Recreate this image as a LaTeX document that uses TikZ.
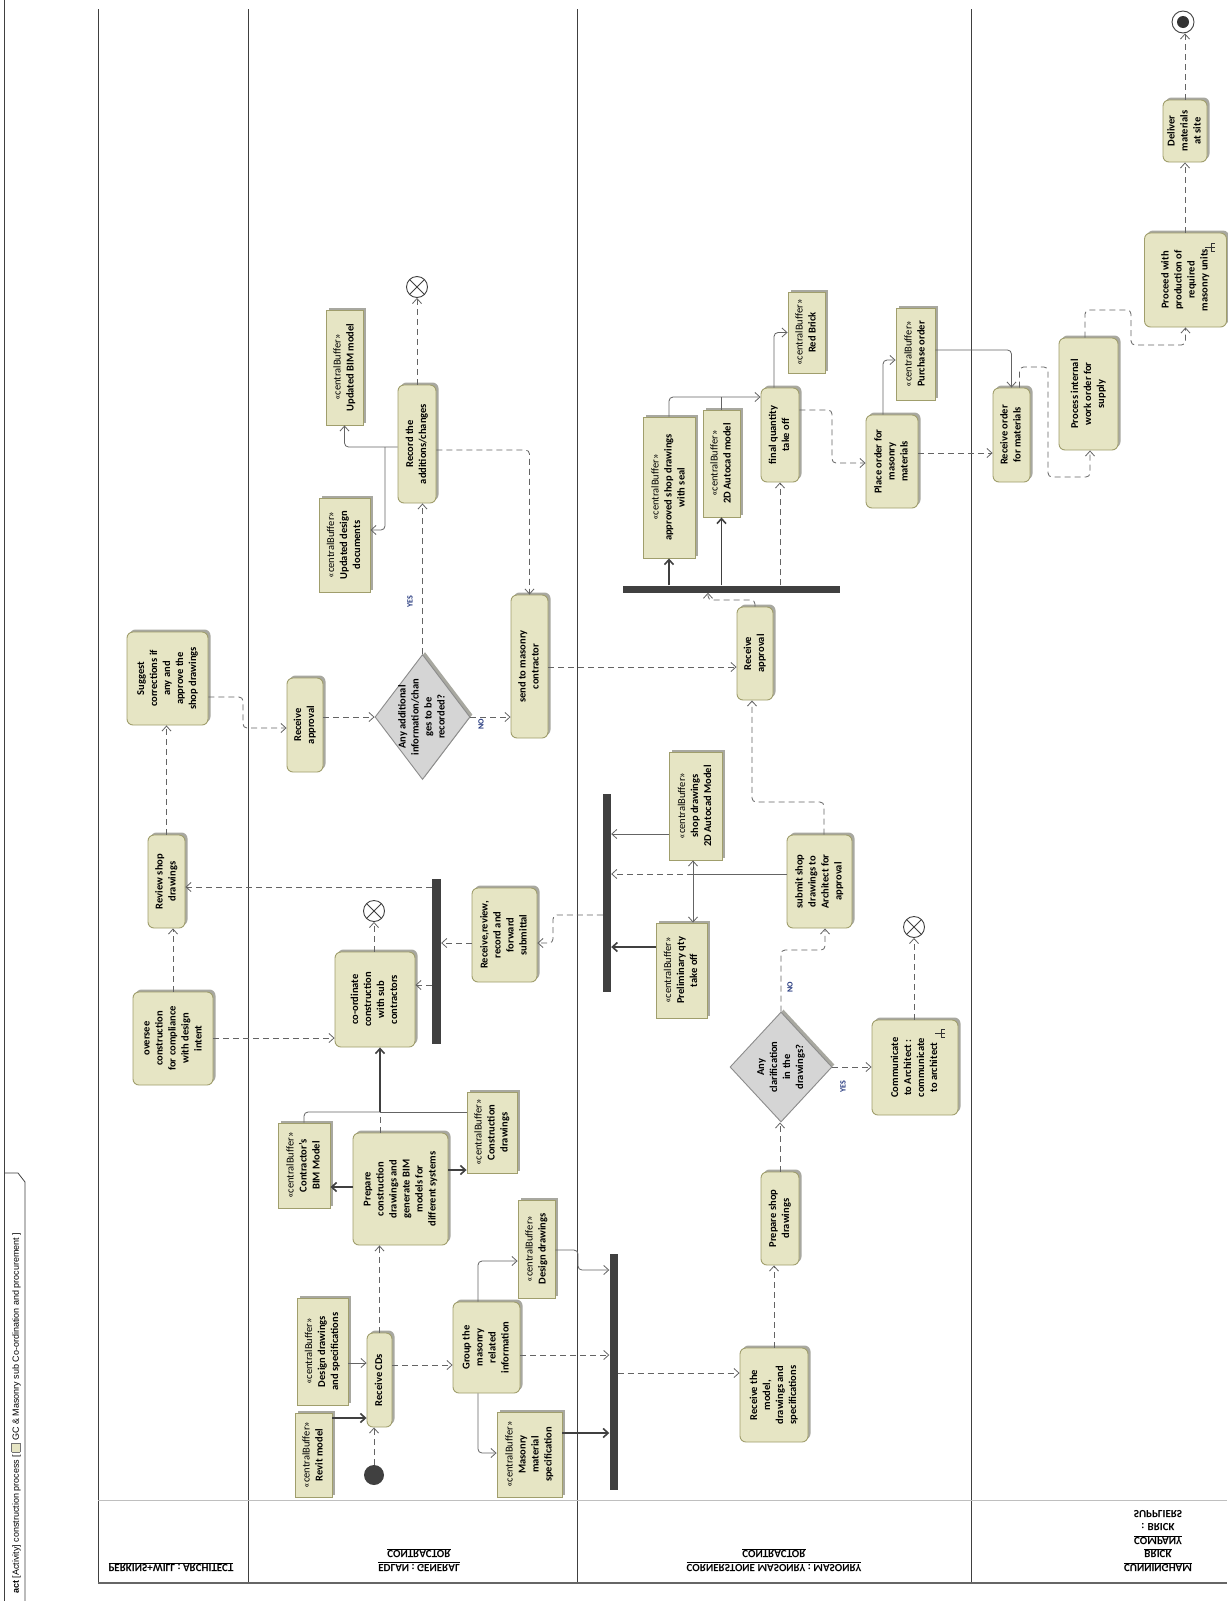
\documentclass[tikz,border=0pt]{standalone}
\usepackage{fontspec}
\setmainfont{Carlito}
\newfontfamily\tabfont{Liberation Sans}
\usetikzlibrary{arrows.meta, shapes.geometric, shadows}

\definecolor{actfill}{RGB}{230,229,196}
\definecolor{actline}{RGB}{160,158,108}
\definecolor{decfill}{RGB}{213,213,213}
\definecolor{decline}{RGB}{140,140,140}
\definecolor{flowgray}{RGB}{100,100,100}
\definecolor{bardark}{RGB}{64,64,64}
\definecolor{lblblue}{RGB}{35,55,125}
\definecolor{shade}{RGB}{168,168,160}

\newcommand{\vtext}[1]{\rotatebox{90}{\begin{tabular}{@{}c@{}}#1\end{tabular}}}
\newcommand{\cbuf}[1]{\vtext{\mdseries «centralBuffer»\\#1}}
\newcommand{\flipped}[1]{\scalebox{1}[-1]{\begin{tabular}{@{}c@{}}#1\end{tabular}}}

\tikzset{
  rakeicon/.pic={
    \draw[line width=0.7pt, black!80] (-5,0) -- (5,0) (1,-4) -- (1,4) (1,-4) -- (5,-4) (1,4) -- (5,4);
  }
}

\begin{document}
\begin{tikzpicture}[x=1pt, y=-1pt,
  act/.style 2 args={draw=actline, fill=actfill, line width=0.9pt, rounded corners=6pt,
    minimum width=#1pt, minimum height=#2pt, inner sep=0pt,
    font=\fontsize{10.5}{13}\selectfont\bfseries,
    drop shadow={shadow xshift=2.5pt, shadow yshift=2.5pt, fill=shade, opacity=1}},
  obj/.style 2 args={draw=actline, fill=actfill, line width=0.9pt,
    minimum width=#1pt, minimum height=#2pt, inner sep=0pt,
    font=\fontsize{10.5}{13}\selectfont\bfseries,
    drop shadow={shadow xshift=2.5pt, shadow yshift=2.5pt, fill=shade, opacity=1}},
  dec/.style 2 args={diamond, draw=decline, fill=decfill, line width=0.9pt,
    minimum width=#1pt, minimum height=#2pt, inner sep=-10pt,
    font=\fontsize{10.5}{13}\selectfont\bfseries,
    drop shadow={shadow xshift=2.5pt, shadow yshift=2.5pt, fill=shade, opacity=1}},
  bar/.style 2 args={fill=bardark, minimum width=#1pt, minimum height=#2pt, inner sep=0pt},
  ini/.style={circle, fill=bardark, minimum size=20pt, inner sep=0pt},
  flowfin/.style={circle, draw=black!75, fill=white, line width=0.9pt, minimum size=21pt, inner sep=0pt,
    path picture={\draw[line width=0.9pt, black!75]
      (path picture bounding box.north west) -- (path picture bounding box.south east)
      (path picture bounding box.north east) -- (path picture bounding box.south west);}},
  actfin/.style={circle, draw=black!75, fill=white, line width=0.9pt, minimum size=22pt, inner sep=0pt,
    path picture={\fill[black!80] (path picture bounding box.center) circle (6pt);}},
  ctrl/.style={draw=flowgray, line width=0.8pt, dash pattern=on 6pt off 4pt, rounded corners=4pt,
    -{Straight Barb[length=5pt, width=9pt]}},
  ctrlnt/.style={draw=flowgray, line width=0.8pt, dash pattern=on 6pt off 4pt, rounded corners=4pt},
  objf/.style={draw=flowgray, line width=0.8pt, rounded corners=4pt,
    -{Straight Barb[length=5pt, width=9pt]}},
  objnt/.style={draw=flowgray, line width=0.8pt, rounded corners=4pt},
  objk/.style={draw=black!75, line width=1.6pt, -{Straight Barb[length=5pt, width=9pt]}},
  lane/.style={draw=black!75, line width=0.8pt},
  guard/.style={font=\fontsize{8}{9}\selectfont\bfseries, text=lblblue, inner sep=0pt},
  lanehead/.style={font=\fontsize{11}{13.5}\selectfont\bfseries, inner sep=0pt},
]
\useasboundingbox (0,0) rectangle (1227,1601);
\fill[white] (0,0) rectangle (1227,1601);

% Frame and title tab
\draw[lane] (4,0) -- (4,1601);
\draw[lane] (4,1173) -- (18,1173) -- (25,1182) -- (25,1601);
\node[rotate=90, anchor=west, inner sep=0pt, font=\tabfont\fontsize{9}{10}\selectfont] (title) at (16,1594)
  {\textbf{act} [Activity] construction process [ \setlength{\fboxsep}{1pt}\fcolorbox{black!55}{actfill}{\rule{0pt}{6pt}\hspace{6pt}} GC \& Masonry sub Co-ordination and procurement ]};

% Swimlanes
\foreach \lx in {98,248,577,971}
  \draw[lane] (\lx,9) -- (\lx,1583);
\draw[draw=black!25, line width=0.8pt] (98,1500) -- (1227,1500);
\draw[draw=black!60, line width=1.4pt] (98,1583) -- (1227,1583);

\node[lanehead] (hArch) at (171,1567) {\flipped{\underline{PERKINS+WILL : ARCHITECT}}};
\node[lanehead] (hGC) at (419,1560) {\flipped{\underline{EDLAN : GENERAL}\\\underline{CONTRACTOR}}};
\node[lanehead] (hMas) at (774,1560) {\flipped{\underline{CORNERSTONE MASONRY : MASONRY}\\\underline{CONTRACTOR}}};
\node[lanehead] (hSup) at (1158,1540) {\flipped{\underline{CUNNINGHAM}\\\underline{BRICK}\\\underline{COMPANY}\\: BRICK\\SUPPLIERS}};

% Architect lane
\node[act={81}{93}] (suggest) at (167.5,678.5) {\vtext{Suggest\\corrections if\\any and\\approve the\\shop drawings}};
\node[act={37}{93}] (review) at (166.5,881.5) {\vtext{Review shop\\drawings}};
\node[act={80}{93}] (oversee) at (173,1038.5) {\vtext{oversee\\construction\\for compliance\\with design\\intent}};

% General contractor lane
\node[ini] (start) at (374,1475) {};
\node[obj={37}{84}] (revit) at (313.5,1455) {\cbuf{Revit model}};
\node[obj={51}{107}] (dspec) at (322.5,1351.5) {\cbuf{Design drawings\\and specifications}};
\node[act={25}{94}] (cds) at (379.5,1380) {\vtext{Receive CDs}};
\node[act={95}{112}] (prep) at (400.5,1189) {\vtext{Prepare\\construction\\drawings and\\generate BIM\\models for\\different systems}};
\node[obj={52}{85}] (bim) at (304,1165.5) {\cbuf{Contractor's\\BIM Model}};
\node[obj={50}{81}] (cdraw) at (492,1132.5) {\cbuf{Construction\\drawings}};
\node[act={67}{91}] (group) at (486.5,1347.5) {\vtext{Group the\\masonry\\related\\information}};
\node[obj={37}{98}] (ddraw) at (536.5,1249) {\cbuf{Design drawings}};
\node[obj={65}{85}] (mspec) at (529.5,1454.5) {\cbuf{Masonry\\material\\specification}};
\node[act={80}{95}] (coord) at (375,999.5) {\vtext{co-ordinate\\construction\\with sub\\contractors}};
\node[flowfin] (endA) at (374,911) {};
\node[bar={9}{165}] (forkA) at (436.5,961.5) {};
\node[act={65}{94}] (rrr) at (504.5,935) {\vtext{Receive,review,\\record and\\forward\\submittal}};
\node[act={36}{94}] (apprA) at (305,725) {\vtext{Receive\\approval}};
\node[dec={95}{125}] (addinfo) at (422.5,717) {\vtext{Any additional\\information/chan\\ges to be\\recorded?}};
\node[act={37}{143}] (send) at (529.5,666.5) {\vtext{send to masonry\\contractor}};
\node[act={38}{118}] (record) at (417,444) {\vtext{Record the\\additions/changes}};
\node[obj={37}{115}] (ubim) at (344.5,367.5) {\cbuf{Updated BIM model}};
\node[obj={51}{94}] (udoc) at (344.5,545) {\cbuf{Updated design\\documents}};
\node[flowfin] (endB) at (417,287) {};

% Masonry contractor lane
\node[bar={8}{236}] (joinB) at (613.5,1372) {};
\node[act={68}{94}] (rmodel) at (774,1395) {\vtext{Receive the\\model,\\drawings and\\specifications}};
\node[act={38}{93}] (pshop) at (780,1218.5) {\vtext{Prepare shop\\drawings}};
\node[dec={102}{110}] (clarif) at (781,1067) {\vtext{Any\\clarification\\in the\\drawings?}};
\node[act={86}{95}] (comm) at (915,1067.5) {\vtext{Communicate\\to Architect :\\communicate\\to architect}};
\pic at (940,1033) {rakeicon};
\node[flowfin] (endC) at (914,927) {};
\node[act={65}{93}] (submit) at (819.5,881.5) {\vtext{submit shop\\drawings to\\Architect for\\approval}};
\node[obj={53}{108}] (sd2d) at (695.5,806) {\cbuf{shop drawings\\2D Autocad Model}};
\node[obj={51}{95}] (prelim) at (681.5,970.5) {\cbuf{Preliminary qty\\take off}};
\node[bar={8}{198}] (forkC) at (607,893) {};
\node[act={36}{93}] (apprB) at (755,653.5) {\vtext{Receive\\approval}};
\node[bar={217}{7}] (forkD) at (731.5,589) {};
\node[obj={52}{141}] (sealed) at (669,487.5) {\cbuf{approved shop drawings\\with seal}};
\node[obj={37}{107}] (auto2d) at (721.5,463.5) {\cbuf{2D Autocad model}};
\node[act={38}{94}] (fqto) at (780,435) {\vtext{final quantity\\take off}};
\node[obj={37}{81}] (brick) at (806.5,332.5) {\cbuf{Red Brick}};
\node[act={52}{93}] (porder) at (892,461.5) {\vtext{Place order for\\masonry\\materials}};
\node[obj={39}{92}] (purch) at (915.5,354) {\cbuf{Purchase order}};

% Brick supplier lane
\node[act={37}{94}] (rorder) at (1011.5,435) {\vtext{Receive order\\for materials}};
\node[act={59}{112}] (pwork) at (1088.5,394) {\vtext{Process internal\\work order for\\supply}};
\node[act={82}{94}] (produce) at (1185.5,280) {\vtext{Proceed with\\production of\\required\\masonry units}};
\pic at (1210,247) {rakeicon};
\node[act={44}{62}] (deliver) at (1185,131) {\vtext{Deliver\\materials\\at site}};
\node[actfin] (done) at (1183,22) {};

% Guards
\node[guard] (yesA) at (410,602) {\rotatebox{90}{YES}};
\node[guard] (noA) at (481,724) {\rotatebox{90}{NO}};
\node[guard] (yesB) at (843,1087) {\rotatebox{90}{YES}};
\node[guard] (noB) at (790,987) {\rotatebox{90}{NO}};

% Flows, general contractor
\draw[ctrl] (start.north) -- (start.north |- cds.south);
\draw[ctrl] (cds.north) -- (cds.north |- prep.south);
\draw[ctrl] (cds.east |- 0,1365) -- (group.west |- 0,1365);
\coordinate (jP) at (380,1112);
\draw[ctrlnt] (prep.north -| jP) -- (jP);
\draw[objk] (jP) -- (jP |- coord.south);
\draw[objnt] (bim.north) |- (jP);
\draw[objnt] (cdraw.west |- jP) -- (jP);
\draw[objk] (prep.west |- 0,1187) -- (bim.east |- 0,1187);
\draw[objk] (prep.east |- 0,1170) -- (cdraw.west |- 0,1170);
\draw[objk] (revit.east |- 0,1418) -- (cds.west |- 0,1418);
\draw[objf] (dspec.east |- 0,1363) -- (cds.west |- 0,1363);
\draw[objf] ([xshift=-8.5pt]group.north) |- (ddraw.west |- 0,1261);
\draw[objf] ([xshift=-8.5pt]group.south) |- (mspec.west |- 0,1453);
\draw[objf] (ddraw.east |- 0,1250) -| (578,1270) -- (joinB.west |- 0,1270);
\draw[ctrl] (group.east |- 0,1355) -- (joinB.west |- 0,1355);
\draw[objk] (mspec.east |- 0,1433) -- (joinB.west |- 0,1433);

% Flows, masonry contractor
\draw[ctrl] (joinB.east |- 0,1373) -- (rmodel.west |- 0,1373);
\draw[ctrl] (rmodel.north) -- (rmodel.north |- pshop.south);
\draw[ctrl] (pshop.north) -- (pshop.north |- clarif.south);
\draw[ctrl] (clarif.east) -- (clarif.east -| comm.west);
\draw[ctrl] (clarif.north) |- (825,950) -- (825,0 |- submit.south);
\draw[ctrl] (comm.north -| endC) -- (endC);
\coordinate (jS) at (693,874);
\draw[objnt] (submit.west |- jS) -- (jS);
\draw[ctrl] (jS) -- (forkC.east |- jS);
\draw[objf] (jS) -- (jS |- sd2d.south);
\draw[objf] (jS) -- (jS |- prelim.north);
\draw[ctrl] ([xshift=4.5pt]submit.north) |- (752,802) -- (752,0 |- apprB.south);
\draw[objf] (sd2d.west |- 0,834) -- (forkC.east |- 0,834);
\draw[objk] (prelim.west |- 0,947) -- (forkC.east |- 0,947);
\draw[ctrl] (forkC.west |- 0,915) -| (553,943) -- (rrr.east |- 0,943);

% Flows, back to contractor and architect
\draw[ctrl] (rrr.west |- 0,943) -- (forkA.east |- 0,943);
\draw[ctrl] (forkA.west |- 0,985) -- (coord.east |- 0,985);
\draw[ctrl] (forkA.west |- 0,887) -- (review.east |- 0,887);
\draw[ctrl] (coord.north -| endA) -- (endA);
\draw[ctrl] (oversee.east |- 0,1038) -- (coord.west |- 0,1038);
\draw[ctrl] (oversee.north) -- (oversee.north |- review.south);
\draw[ctrl] (review.north) -- (review.north |- suggest.south);
\draw[ctrl] (suggest.east |- 0,697) -| (243,728) -- (apprA.west |- 0,728);
\draw[ctrl] (apprA.east |- addinfo.west) -- (addinfo.west);
\draw[ctrl] (addinfo.east) -- (addinfo.east -| send.west);
\draw[ctrl] (addinfo.north) -- (addinfo.north |- record.south);
\draw[ctrl] (record.north) -- (endB);
\draw[objf] (record.west |- 0,447) -| (ubim.south);
\coordinate (jR) at (385,447);
\draw[objf] (jR) |- (udoc.east |- 0,530);
\draw[ctrl] (record.east |- 0,450) -| (send.north);
\draw[ctrl] (send.east |- 0,667) -- (apprB.west |- 0,667);

% Flows, ordering and supply
\draw[ctrl] (apprB.north) |- (708,600) -- (708,0 |- forkD.south);
\draw[objk] (forkD.north -| sealed) -- (sealed.south);
\draw[objk] (forkD.north -| auto2d) -- (auto2d.south);
\draw[ctrl] (forkD.north -| fqto) -- (fqto.south);
\draw[objf] (sealed.north) |- (fqto.west |- 0,397);
\draw[objnt] (auto2d.north) -- (auto2d.north |- 0,397);
\draw[objf] ([xshift=-6pt]fqto.north) |- (brick.west);
\draw[ctrl] (fqto.east |- 0,410) -| (832,463) -- (porder.west |- 0,463);
\draw[objf] ([xshift=-9pt]porder.north) |- (purch.west |- 0,360);
\draw[ctrl] (porder.east |- 0,453) -- (rorder.west |- 0,453);
\draw[objf] (purch.east |- 0,350) -| (rorder.north);
\draw[ctrl] ([xshift=8pt]rorder.north) |- (1048,367) |- (1090,477) -- (1090,0 |- pwork.south);
\draw[ctrl] ([xshift=-3.5pt]pwork.north) |- (1131,310) |- (1185.5,345) -- (produce.south);
\draw[ctrl] (produce.north -| deliver) -- (deliver.south);
\draw[ctrl] (deliver.north) -- (deliver.north |- done.south);

\end{tikzpicture}
\end{document}
